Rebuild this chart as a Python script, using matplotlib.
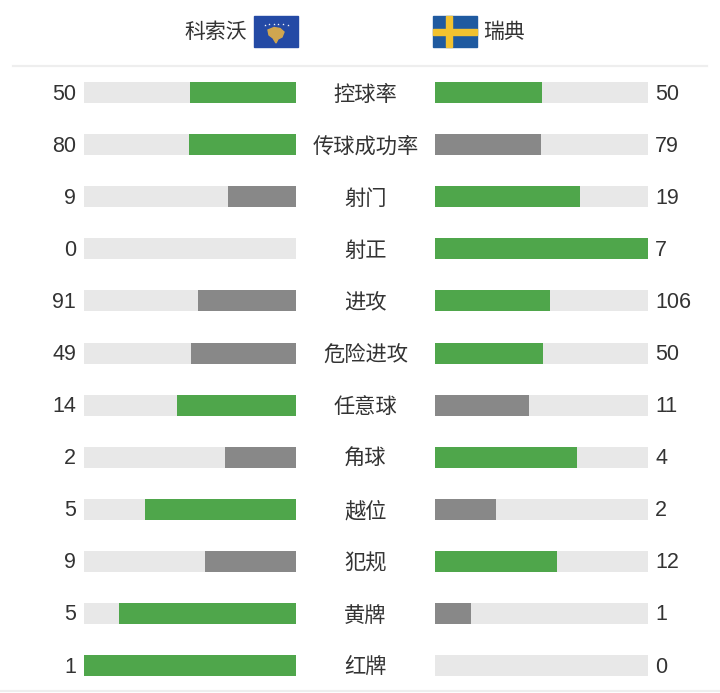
import matplotlib
matplotlib.use("Agg")
import matplotlib.pyplot as plt
from matplotlib.patches import Rectangle, Polygon

plt.rcParams['font.family'] = ['Noto Sans CJK SC', 'DejaVu Sans']

# data
team_left = "科索沃"
team_right = "瑞典"
stats = ["控球率", "传球成功率", "射门", "射正", "进攻", "危险进攻",
         "任意球", "角球", "越位", "犯规", "黄牌", "红牌"]
left_vals = [50, 80, 9, 0, 91, 49, 14, 2, 5, 9, 5, 1]
right_vals = [50, 79, 19, 7, 106, 50, 11, 4, 2, 12, 1, 0]

GREEN = "#4fa64b"
GREY = "#888888"
TRACK = "#e8e8e8"
TXT = "#333333"
NUMFONT = ['Liberation Sans', 'DejaVu Sans']

W, H = 720, 693
fig = plt.figure(figsize=(W / 100, H / 100), dpi=100)
ax = fig.add_axes([0, 0, 1, 1])
ax.set_xlim(0, W)
ax.set_ylim(H, 0)
ax.axis('off')

# layout (pixels)
L0, L1 = 84, 296      # left track
R0, R1 = 435, 648     # right track
y0, dy = 92.5, 52.1
bh = 21
ys = [y0 + i * dy for i in range(len(stats))]

# tracks
ax.barh(ys, L1 - L0, left=L0, height=bh, color=TRACK, zorder=1)
ax.barh(ys, R1 - R0, left=R0, height=bh, color=TRACK, zorder=1)

for y, name, a, b in zip(ys, stats, left_vals, right_vals):
    tot = a + b
    fa = a / tot if tot else 0
    fb = b / tot if tot else 0
    ca = GREEN if a >= b else GREY
    cb = GREEN if b >= a else GREY
    if a > 0:
        wa = fa * (L1 - L0)
        ax.barh(y, wa, left=L1 - wa, height=bh, color=ca, zorder=2)
    if b > 0:
        ax.barh(y, fb * (R1 - R0), left=R0, height=bh, color=cb, zorder=2)
    ax.text(76, y + 1.5, str(a), ha='right', va='center', fontsize=15.5,
            color=TXT, family=NUMFONT)
    ax.text(655, y + 1.5, str(b), ha='left', va='center', fontsize=15.5,
            color=TXT, family=NUMFONT)
    ax.text(365.5, y + 2, name, ha='center', va='center', fontsize=15.3,
            color=TXT)

# header
ax.text(247, 32, team_left, ha='right', va='center', fontsize=15, color=TXT)
ax.text(483, 32, team_right, ha='left', va='center', fontsize=15, color=TXT)

# Kosovo flag
fx, fy, fw, fh = 254, 16, 44, 31
ax.add_patch(Rectangle((fx, fy), fw, fh, color="#244aa5", zorder=3))
for i in range(6):
    stx = fx + 10.5 + i * 4.6
    sty = fy + 8.5 - (2.5 - abs(i - 2.5)) * 0.5
    ax.plot(stx, sty, marker='*', color='white', markersize=1.8,
            markeredgewidth=0, zorder=4)
shape = [(fx + 14, fy + 14), (fx + 20, fy + 11.5), (fx + 26, fy + 12.5), (fx + 30, fy + 16),
         (fx + 28, fy + 21), (fx + 24, fy + 23), (fx + 22, fy + 27), (fx + 19, fy + 22),
         (fx + 15, fy + 19)]
ax.add_patch(Polygon(shape, closed=True, color="#d0a650", zorder=4))

# Sweden flag
sx, sy, sw, sh = 433, 16, 44, 31
ax.add_patch(Rectangle((sx, sy), sw, sh, color="#1f5aa0", zorder=3))
ax.add_patch(Rectangle((sx + 13, sy), 6, sh, color="#f2c230", zorder=4))
ax.add_patch(Rectangle((sx, sy + 12.5), sw, 6, color="#f2c230", zorder=4))

# separators
ax.plot([13, 707], [65.5, 65.5], color="#eeeeee", lw=1.6, zorder=1)
ax.plot([0, W], [691, 691], color="#eeeeee", lw=1.6, zorder=1)

fig.savefig("out.png", dpi=100, facecolor='white')
